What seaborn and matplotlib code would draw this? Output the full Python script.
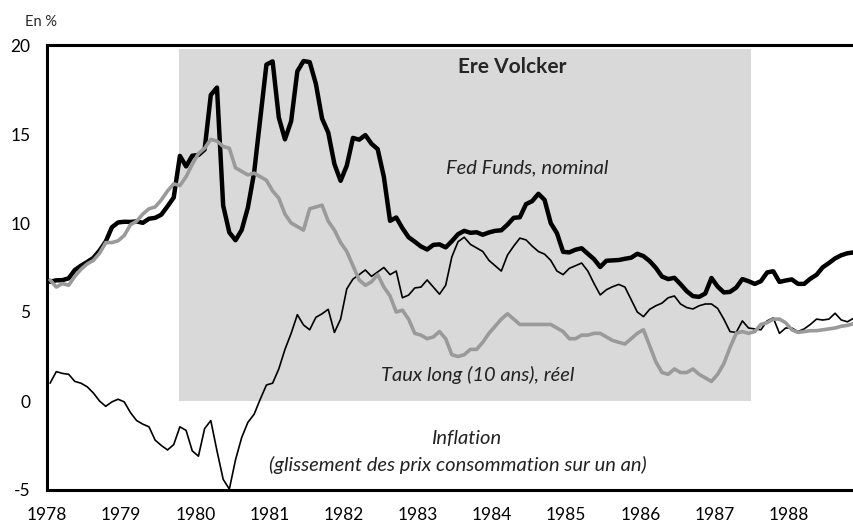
import matplotlib
matplotlib.use("Agg")
import matplotlib.pyplot as plt
import seaborn as sns
import pandas as pd
import numpy as np

# Monthly series, Jan 1978 -> Nov 1988 (in %)
annees = list(range(1978, 1989))

fed_funds = [
    6.70, 6.78, 6.79, 6.89, 7.36, 7.60, 7.81, 8.04, 8.45, 8.96, 9.76, 10.03,
    10.07, 10.06, 10.09, 10.01, 10.24, 10.29, 10.47, 10.94, 11.43, 13.77, 13.18, 13.78,
    13.82, 14.13, 17.19, 17.61, 10.98, 9.47, 9.03, 9.61, 10.87, 12.81, 15.85, 18.90,
    19.08, 15.93, 14.70, 15.72, 18.52, 19.10, 19.04, 17.82, 15.87, 15.08, 13.31, 12.37,
    13.22, 14.78, 14.68, 14.94, 14.45, 14.15, 12.59, 10.12, 10.31, 9.71, 9.20, 8.95,
    8.68, 8.51, 8.77, 8.80, 8.63, 8.98, 9.37, 9.56, 9.45, 9.48, 9.34, 9.47,
    9.56, 9.59, 9.91, 10.29, 10.32, 11.06, 11.23, 11.64, 11.30, 9.99, 9.43, 8.38,
    8.35, 8.50, 8.58, 8.27, 7.97, 7.53, 7.88, 7.90, 7.92, 7.99, 8.05, 8.27,
    8.14, 7.86, 7.48, 6.99, 6.85, 6.92, 6.56, 6.17, 5.89, 5.85, 6.04, 6.91,
    6.43, 6.10, 6.13, 6.37, 6.85, 6.73, 6.58, 6.73, 7.22, 7.29, 6.69, 6.77,
    6.83, 6.58, 6.58, 6.87, 7.09, 7.51, 7.75, 8.01, 8.19, 8.30, 8.35,
]

inflation = [
    6.8, 6.4, 6.6, 6.5, 7.0, 7.4, 7.7, 7.9, 8.3, 8.9, 8.9, 9.0,
    9.3, 9.9, 10.1, 10.5, 10.8, 10.9, 11.3, 11.8, 12.2, 12.1, 12.6, 13.3,
    13.9, 14.2, 14.7, 14.6, 14.3, 14.2, 13.1, 12.9, 12.7, 12.8, 12.6, 12.4,
    11.8, 11.4, 10.5, 10.0, 9.8, 9.6, 10.8, 10.9, 11.0, 10.1, 9.6, 8.9,
    8.4, 7.6, 6.8, 6.5, 6.7, 7.1, 6.4, 5.9, 5.0, 5.1, 4.6, 3.8,
    3.7, 3.5, 3.6, 3.9, 3.5, 2.6, 2.5, 2.6, 2.9, 2.9, 3.3, 3.8,
    4.2, 4.6, 4.9, 4.6, 4.3, 4.3, 4.3, 4.3, 4.3, 4.3, 4.1, 3.9,
    3.5, 3.5, 3.7, 3.7, 3.8, 3.8, 3.6, 3.4, 3.3, 3.2, 3.5, 3.8,
    4.0, 3.1, 2.2, 1.6, 1.5, 1.8, 1.6, 1.6, 1.8, 1.5, 1.3, 1.1,
    1.5, 2.1, 3.0, 3.8, 3.9, 3.8, 3.9, 4.3, 4.4, 4.6, 4.6, 4.4,
    4.0, 3.85, 3.9, 3.95, 3.95, 4.0, 4.05, 4.1, 4.2, 4.25, 4.35,
]

taux_long_reel = [
    1.0, 1.65, 1.55, 1.5, 1.1, 1.0, 0.8, 0.45, 0.0, -0.3, -0.05, 0.1,
    -0.05, -0.65, -1.1, -1.3, -1.45, -2.2, -2.5, -2.75, -2.45, -1.45, -1.65, -2.8,
    -3.1, -1.55, -1.1, -2.8, -4.4, -4.95, -3.3, -2.05, -1.2, -0.75, 0.1, 0.9,
    1.0, 1.8, 2.9, 3.8, 4.85, 4.27, 4.0, 4.7, 4.9, 5.15, 3.85, 4.6,
    6.3, 6.85, 7.1, 7.36, 7.0, 7.25, 7.5, 7.1, 7.3, 5.8, 5.95, 6.35,
    6.4, 6.8, 6.4, 6.0, 6.5, 8.1, 8.95, 9.2, 8.8, 8.6, 8.4, 7.9,
    7.6, 7.3, 8.2, 8.7, 9.15, 9.05, 8.7, 8.4, 8.25, 7.9, 7.3, 7.1,
    7.45, 7.6, 7.75, 7.3, 6.6, 5.96, 6.25, 6.42, 6.55, 6.4, 5.7, 5.0,
    4.74, 5.15, 5.35, 5.5, 5.8, 5.9, 5.45, 5.25, 5.17, 5.35, 5.45, 5.45,
    5.2, 4.6, 3.9, 3.85, 4.5, 4.1, 4.05, 4.0, 4.5, 4.67, 3.8, 4.1,
    4.1, 3.9, 4.05, 4.3, 4.6, 4.55, 4.6, 4.93, 4.55, 4.45, 4.65,
]

# mid-month positions
mois = np.arange(len(fed_funds))
df = pd.DataFrame({
    "date": 1978 + (mois + 0.5) / 12,
    "fed": fed_funds,
    "infl": inflation,
    "reel": taux_long_reel,
})

sns.set_style("white")
plt.rcParams['font.family'] = ['Lato', 'DejaVu Sans']

fig = plt.figure(figsize=(8.54, 5.27), dpi=100)
ax = fig.add_axes([47 / 854, 37 / 527, 807 / 854, 445 / 527])

# Volcker era shading
ax.fill_between([1979.78, 1987.49], 0, 19.8, color='#d9d9d9', lw=0, zorder=0)

sns.lineplot(data=df, x='date', y='fed', color='black', lw=3.2, ax=ax, zorder=3)
sns.lineplot(data=df, x='date', y='reel', color='black', lw=1.2, ax=ax, zorder=3)
sns.lineplot(data=df, x='date', y='infl', color='#9a9a9a', lw=2.6, ax=ax, zorder=4)

ax.set_xlim(1978, 1988.88)
ax.set_ylim(-5, 20)
ax.set_xticks(annees)
ax.set_xticklabels([str(a) for a in annees])
ax.set_yticks([-5, 0, 5, 10, 15, 20])
ax.set_yticklabels(['-5', '0', '5', '10', '15', '20'])
ax.set_xlabel('')
ax.set_ylabel('')

ax.tick_params(axis='x', direction='in', length=5, width=1.5, pad=12, labelsize=12.5, colors='black')
ax.tick_params(axis='y', direction='in', length=5, width=1.5, pad=12, labelsize=12.5, colors='black')

for s in ['left', 'top', 'bottom']:
    ax.spines[s].set_linewidth(2.2)
    ax.spines[s].set_color('black')
ax.spines['right'].set_visible(False)

ax.text(1984.27, 18.76, 'Ere Volcker', ha='center', va='center', fontsize=15, fontweight='bold')
ax.text(1984.48, 13.1, 'Fed Funds, nominal', ha='center', va='center', fontsize=14.5, style='italic', color='#222222')
ax.text(1983.81, 1.46, 'Taux long (10 ans), réel', ha='center', va='center', fontsize=14.5, style='italic', color='#222222')
ax.text(1983.65, -2.08, 'Inflation', ha='center', va='center', fontsize=14.5, style='italic', color='#222222')
ax.text(1983.54, -3.6, '(glissement des prix consommation sur un an)', ha='center', va='center',
        fontsize=14.5, style='italic', color='#222222')

fig.text(25 / 854, 1 - 22 / 527, 'En %', ha='left', va='center', fontsize=10.5)

fig.savefig('out.png', dpi=100)
